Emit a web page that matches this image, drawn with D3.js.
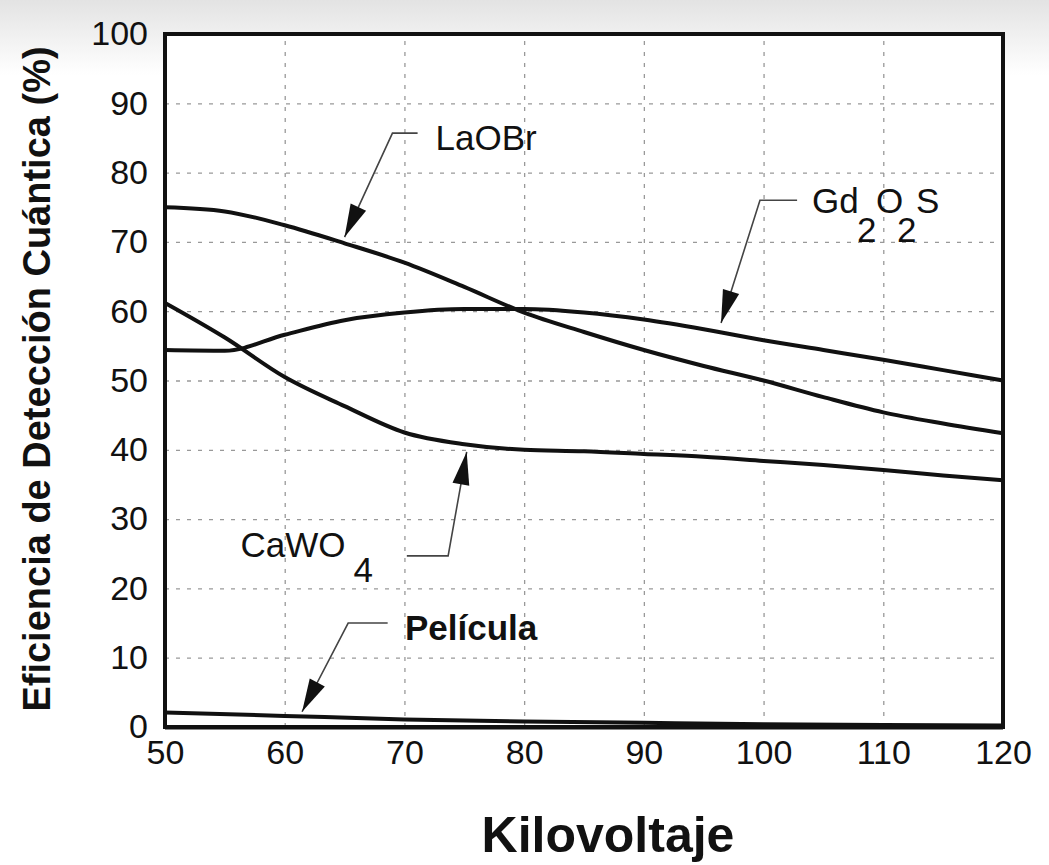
<!DOCTYPE html>
<html>
<head>
<meta charset="utf-8">
<script src="https://cdn.jsdelivr.net/npm/d3@7"></script>
<style>
    html, body { margin: 0; padding: 0; background: #fff; }
    svg text { font-family: "Liberation Sans", Arial, Helvetica, sans-serif; fill: #111; }
</style>
</head>
<body>
<div id="chart"></div>
<script>
// kilovoltage samples (kV)
const kv = [50, 55, 60, 65, 70, 75, 80, 85, 90, 95, 100, 105, 110, 115, 120];
const kvFilm = [50, 60, 70, 80, 90, 100, 110, 120];

// quantum detection efficiency (%)
const laobr   = [75.0, 74.4, 72.4, 69.8, 67.0, 63.5, 59.8, 57.0, 54.4, 52.1, 50.0, 47.6, 45.4, 43.8, 42.4];
const gd2o2s  = [54.4, 54.3, 56.6, 58.7, 59.8, 60.3, 60.3, 59.8, 58.8, 57.4, 55.8, 54.4, 53.0, 51.5, 50.0];
const cawo4   = [61.2, 56.2, 50.5, 46.3, 42.5, 40.8, 40.0, 39.8, 39.4, 39.0, 38.4, 37.8, 37.1, 36.3, 35.6];
const pelicula = [2.1, 1.6, 1.1, 0.8, 0.6, 0.4, 0.3, 0.2];

const xTicks = [50, 60, 70, 80, 90, 100, 110, 120];
const yTicks = [0, 10, 20, 30, 40, 50, 60, 70, 80, 90, 100];

// callouts: tip of arrow, elbow, end of leader, label anchor (all in data units)
const callouts = [
    { name: "LaOBr",    tip: [65.0, 70.7], elbow: [69.0, 85.7], end: [71.1, 85.7], label: [72.6, 83.3] },
    { name: "Gd2O2S",   tip: [96.45, 58.3], elbow: [99.7, 76.0], end: [102.8, 76.0], label: [104.05, 74.2] },
    { name: "CaWO4",    tip: [75.2, 39.7], elbow: [73.65, 24.7], end: [70.2, 24.7], label: [56.3, 24.5] },
    { name: "Película", tip: [61.45, 2.2], elbow: [65.3, 15.0], end: [68.6, 15.0], label: [70.05, 12.55] }
];

const width = 1049, height = 865;
const margins = [165, 46, 138, 34]; // left, right, bottom, top
const plotW = width - margins[0] - margins[1];
const plotH = height - margins[2] - margins[3];

const svg = d3.select("#chart")
    .append("svg")
    .attr("width", width)
    .attr("height", height)
    .attr("viewBox", "0 0 " + width + " " + height);

// faint grey band at the top like the scanned source
const defs = svg.append("defs");
const grad = defs.append("linearGradient")
    .attr("id", "topShade")
    .attr("x1", 0).attr("y1", 0).attr("x2", 0).attr("y2", 1);
grad.append("stop").attr("offset", "0%").attr("stop-color", "#e3e3e3");
grad.append("stop").attr("offset", "100%").attr("stop-color", "#ffffff");

svg.append("rect").attr("width", width).attr("height", height).attr("fill", "#fff");
svg.append("rect").attr("width", width).attr("height", 75).attr("fill", "url(#topShade)");

const g = svg.append("g")
    .attr("transform", "translate(" + margins[0] + ", " + margins[3] + ")");

g.append("rect")
    .attr("width", plotW)
    .attr("height", plotH)
    .attr("fill", "#fff");

const x = d3.scaleLinear().domain([50, 120]).range([0, plotW]);
const y = d3.scaleLinear().domain([0, 100]).range([plotH, 0]);

// grid
const xGrid = d3.axisBottom(x).tickValues(xTicks.slice(1, -1)).tickSize(-plotH).tickFormat("");
const yGrid = d3.axisLeft(y).tickValues(yTicks.slice(1, -1)).tickSize(-plotW).tickFormat("");

g.append("g")
    .attr("class", "grid")
    .attr("transform", "translate(0, " + plotH + ")")
    .call(xGrid)
    .call(s => s.select(".domain").remove());
g.append("g")
    .attr("class", "grid")
    .call(yGrid)
    .call(s => s.select(".domain").remove());
g.selectAll(".grid .tick line")
    .attr("stroke", "#999")
    .attr("stroke-width", 1.3)
    .attr("stroke-dasharray", "4,7");

// tick labels
const xAxis = g.append("g")
    .attr("transform", "translate(0, " + plotH + ")")
    .call(d3.axisBottom(x).tickValues(xTicks).tickSize(0).tickPadding(13))
    .call(s => s.select(".domain").remove());
const yAxis = g.append("g")
    .call(d3.axisLeft(y).tickValues(yTicks).tickSize(0).tickPadding(17))
    .call(s => s.select(".domain").remove());

xAxis.selectAll(".tick text").style("font-size", "34px").style("font-family", "Liberation Sans, Arial, sans-serif").attr("fill", "#111");
yAxis.selectAll(".tick text").style("font-size", "34px").style("font-family", "Liberation Sans, Arial, sans-serif").attr("fill", "#111");

// curves
const line = d3.line()
    .x(d => x(d[0]))
    .y(d => y(d[1]))
    .curve(d3.curveMonotoneX);

const series = [
    { id: "laobr", xs: kv, ys: laobr },
    { id: "gd2o2s", xs: kv, ys: gd2o2s },
    { id: "cawo4", xs: kv, ys: cawo4 },
    { id: "pelicula", xs: kvFilm, ys: pelicula }
];

g.selectAll("path.curve")
    .data(series)
    .enter()
        .append("path")
        .attr("class", "curve")
        .attr("id", d => "curve_" + d.id)
        .attr("fill", "none")
        .attr("stroke", "#111")
        .attr("stroke-width", 4)
        .attr("stroke-linejoin", "round")
        .attr("d", d => line(d.xs.map((v, i) => [v, d.ys[i]])));

// frame
g.append("rect")
    .attr("width", plotW)
    .attr("height", plotH)
    .attr("fill", "none")
    .attr("stroke", "#111")
    .attr("stroke-width", 4);
g.append("line")
    .attr("x1", 0).attr("x2", plotW)
    .attr("y1", y(0) + 1).attr("y2", y(0) + 1)
    .attr("stroke", "#111")
    .attr("stroke-width", 3);

// callouts
const ann = g.append("g").attr("class", "callouts");

callouts.forEach(function (c) {
    let tx = x(c.tip[0]), ty = y(c.tip[1]);
    let ex = x(c.elbow[0]), ey = y(c.elbow[1]);

    ann.append("polyline")
        .attr("points", [[x(c.end[0]), y(c.end[1])], [ex, ey], [tx, ty]].map(p => p.join(",")).join(" "))
        .attr("fill", "none")
        .attr("stroke", "#444")
        .attr("stroke-width", 1.6);

    let ang = Math.atan2(ty - ey, tx - ex);
    let len = 33, half = 8.5;
    let bx = tx - len * Math.cos(ang), by = ty - len * Math.sin(ang);
    let px = -Math.sin(ang) * half, py = Math.cos(ang) * half;
    ann.append("path")
        .attr("d", "M" + tx + "," + ty + "L" + (bx + px) + "," + (by + py) + "L" + (bx - px) + "," + (by - py) + "Z")
        .attr("fill", "#111");
});

function labelAt(c) {
    return ann.append("text")
        .attr("x", x(c.label[0]))
        .attr("y", y(c.label[1]))
        .style("font-size", "35px");
}

// LaOBr
labelAt(callouts[0]).text("LaOBr");

// Gd2O2S with lowered 2s, one text element
let gd = callouts[1];
let gx = x(gd.label[0]);
let gdText = labelAt(gd);
gdText.append("tspan").text("Gd");
gdText.append("tspan").attr("x", gx + 45).attr("dy", 29).text("2");
gdText.append("tspan").attr("x", gx + 64).attr("dy", -29).text("O");
gdText.append("tspan").attr("x", gx + 85).attr("dy", 29).text("2");
gdText.append("tspan").attr("x", gx + 104).attr("dy", -29).text("S");

// CaWO4
let caText = labelAt(callouts[2]);
caText.append("tspan").text("CaWO");
caText.append("tspan").attr("dx", 8).attr("dy", 25).text("4");

// Película
labelAt(callouts[3]).style("font-weight", "bold").text("Película");

// axis titles
svg.append("text")
    .attr("transform", "translate(50, 379) rotate(-90)")
    .attr("text-anchor", "middle")
    .style("font-size", "38px")
    .style("font-weight", "bold")
    .text("Eficiencia de Detección Cuántica (%)");

svg.append("text")
    .attr("x", 608)
    .attr("y", 852)
    .attr("text-anchor", "middle")
    .style("font-size", "50px")
    .style("font-weight", "bold")
    .text("Kilovoltaje");
</script>
</body>
</html>
